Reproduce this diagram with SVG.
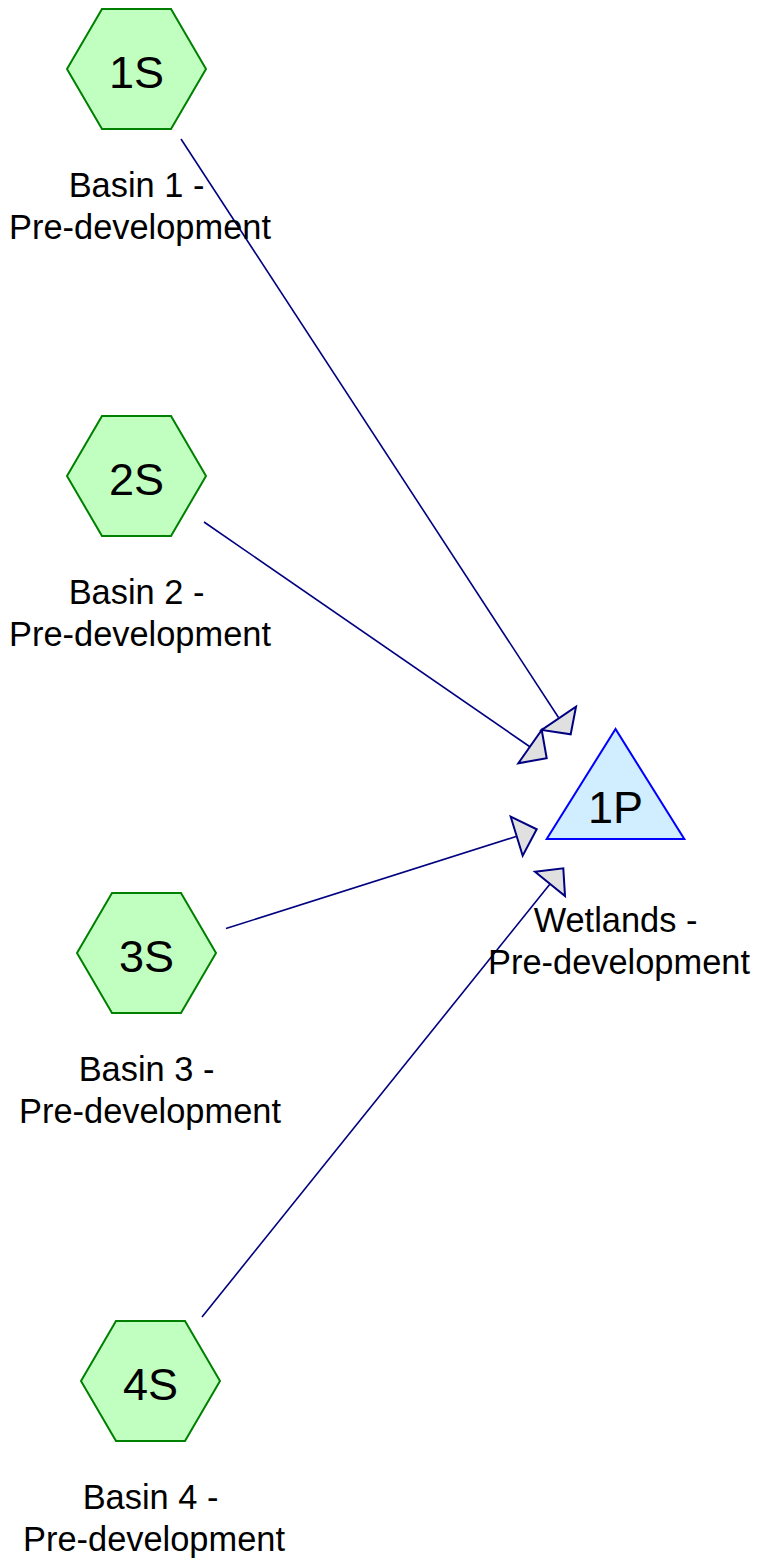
<svg xmlns="http://www.w3.org/2000/svg" xmlns:xlink="http://www.w3.org/1999/xlink" width="758" height="1560" viewBox="0 0 758 1560">
<style>
.hex{fill:#c0ffc0;stroke:#008000;stroke-width:2}
.pond{fill:#d0eeff;stroke:#0000ff;stroke-width:2}
.edge{stroke:#000080;stroke-width:1.6;fill:none}
.head{fill:#e0e0e0;stroke:#000080;stroke-width:2;stroke-linejoin:miter}
.id{font-family:"Liberation Sans",Arial,sans-serif;font-size:45px;fill:#000;text-anchor:middle}
.lbl{font-family:"Liberation Sans",Arial,sans-serif;font-size:34.4px;fill:#000;text-anchor:middle}
</style>
<defs>
<polygon id="hexshape" points="-69.5,0 -34.5,-60 34.5,-60 69.5,0 34.5,60 -34.5,60"/>
</defs>
<rect width="758" height="1560" fill="#ffffff"/>
<g id="connectors">
<line class="edge" x1="181" y1="139" x2="558.5" y2="717.5"/>
<polygon class="head" points="576,706.7 570.7,734.3 541.7,730"/>
<line class="edge" x1="204" y1="522" x2="529.5" y2="746.5"/>
<polygon class="head" points="541.7,730 546.7,758.3 518.3,763.3"/>
<line class="edge" x1="226" y1="928.5" x2="516" y2="836.5"/>
<polygon class="head" points="510.7,816.7 536.7,829.3 522.7,855.7"/>
<line class="edge" x1="202" y1="1317" x2="550" y2="884"/>
<polygon class="head" points="535,871.7 563.3,868.3 565,896"/>
</g>
<g id="node-1S">
<use xlink:href="#hexshape" class="hex" x="136.5" y="69"/>
<text class="id" x="136.5" y="88">1S</text>
<text class="lbl" x="136.5" y="197">Basin 1 -</text>
<text class="lbl" x="140" y="239">Pre-development</text>
</g>
<g id="node-2S">
<use xlink:href="#hexshape" class="hex" x="136.5" y="476"/>
<text class="id" x="136.5" y="495">2S</text>
<text class="lbl" x="136.5" y="604">Basin 2 -</text>
<text class="lbl" x="140" y="646">Pre-development</text>
</g>
<g id="node-3S">
<use xlink:href="#hexshape" class="hex" x="146.5" y="953"/>
<text class="id" x="146.5" y="972">3S</text>
<text class="lbl" x="146.5" y="1081">Basin 3 -</text>
<text class="lbl" x="150" y="1123">Pre-development</text>
</g>
<g id="node-4S">
<use xlink:href="#hexshape" class="hex" x="150.5" y="1381"/>
<text class="id" x="150.5" y="1400">4S</text>
<text class="lbl" x="150.5" y="1509">Basin 4 -</text>
<text class="lbl" x="154" y="1551">Pre-development</text>
</g>
<g id="node-1P">
<polygon class="pond" points="615.5,729 546.7,839 684.3,839"/>
<text class="id" x="615.5" y="822.7">1P</text>
<text class="lbl" x="615.5" y="932">Wetlands -</text>
<text class="lbl" x="619" y="974">Pre-development</text>
</g>
</svg>
